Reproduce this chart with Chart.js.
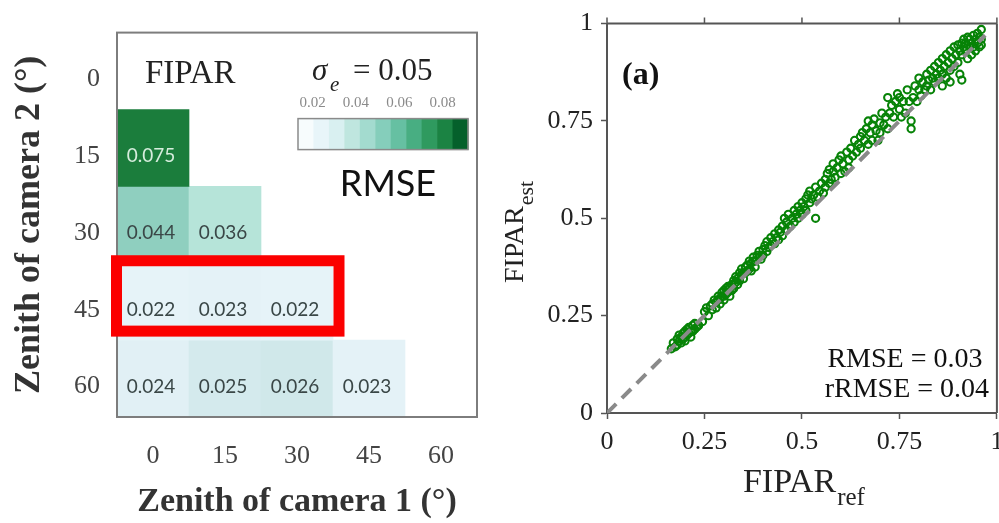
<!DOCTYPE html>
<html>
<head>
<meta charset="utf-8">
<script src="https://cdn.jsdelivr.net/npm/chart.js@4.4.1/dist/chart.umd.min.js"></script>
<style>
html,body{margin:0;padding:0;background:#fff;overflow:hidden;}
#wrap{position:relative;width:999px;height:523px;overflow:hidden;background:#fff;}
canvas{position:absolute;top:0;}
</style>
</head>
<body>
<div id="wrap">
  <canvas id="c1" width="480" height="523" style="left:0;width:480px;height:523px;"></canvas>
  <canvas id="c2" width="523" height="523" style="left:480px;width:523px;height:523px;"></canvas>
</div>
<script>
// ---------------- DATA ----------------
const cam1Labels = ['0', '15', '30', '45', '60'];
const cam2Labels = ['0', '15', '30', '45', '60'];
const rmseRow0  = [null, null, null, null, null];
const rmseRow15 = [0.075, null, null, null, null];
const rmseRow30 = [0.044, 0.036, null, null, null];
const rmseRow45 = [0.022, 0.023, 0.022, null, null];
const rmseRow60 = [0.024, 0.025, 0.026, 0.023, null];
const rmseRows = [rmseRow0, rmseRow15, rmseRow30, rmseRow45, rmseRow60];
const highlightRow = 3;          // row "45"
const highlightCols = [0, 1, 2];  // columns 0,15,30
const colorbarTicks = [0.02, 0.04, 0.06, 0.08];
const colorbarRange = [0.0133, 0.0917];
const sigmaText = '0.05';

const fiparRef = [
  0.165,0.17,0.175,0.18,0.18,0.185,0.185,0.19,0.19,0.195,0.195,0.2,0.2,0.2,0.205,0.205,0.21,0.21,0.215,0.215,0.22,0.22,0.225,0.225,0.23,0.235,0.245,0.25,0.255,0.26,
  0.265,0.27,0.27,0.275,0.28,0.28,0.285,0.285,0.29,0.29,0.295,0.295,0.3,0.3,0.3,0.305,0.305,0.31,0.31,0.315,0.315,0.32,0.32,0.325,0.325,0.33,0.33,0.335,0.335,0.34,0.34,
  0.345,0.345,0.35,0.35,0.355,0.355,0.36,0.36,0.365,0.365,0.37,0.37,0.375,0.375,0.38,0.38,0.385,0.39,0.39,0.395,0.4,0.4,
  0.405,0.41,0.41,0.415,0.42,0.42,0.425,0.43,0.43,0.435,0.44,0.44,0.445,0.45,0.45,0.455,0.46,0.46,0.465,0.47,
  0.475,0.48,0.48,0.485,0.49,0.49,0.495,0.5,0.5,0.505,0.51,0.51,0.515,0.52,0.52,0.525,0.53,0.535,0.535,0.54,0.545,0.55,
  0.555,0.56,0.56,0.565,0.57,0.57,0.575,0.58,0.58,0.585,0.59,0.595,0.6,0.6,0.605,0.61,0.615,0.62,0.62,0.625,0.63,
  0.635,0.64,0.645,0.65,0.65,0.655,0.66,0.665,0.67,0.67,0.675,0.68,0.68,0.685,0.69,0.695,0.7,0.7,0.705,0.71,0.715,0.72,
  0.72,0.725,0.73,0.735,0.74,0.745,0.75,0.75,0.755,0.76,0.765,0.77,0.775,0.78,0.78,0.785,0.79,0.795,0.8,0.8,0.805,0.81,0.815,0.82,0.82,
  0.825,0.83,0.83,0.835,0.84,0.84,0.845,0.85,0.85,0.855,0.86,0.86,0.865,0.87,0.87,0.875,0.88,0.88,0.885,0.89,0.89,0.895,0.9,0.9,0.86,0.88,0.91,0.905,
  0.905,0.91,0.91,0.915,0.915,0.92,0.92,0.925,0.925,0.93,0.93,0.935,0.935,0.94,0.94,0.945,0.945,0.95,0.95,0.955,0.955,0.96,0.96,0.96
];
const fiparEst = [
  0.165,0.18,0.17,0.19,0.175,0.2,0.185,0.195,0.18,0.205,0.19,0.21,0.195,0.185,0.2,0.215,0.205,0.22,0.21,0.195,0.225,0.21,0.215,0.23,0.22,0.225,0.235,0.26,0.27,0.25,
  0.275,0.28,0.265,0.29,0.285,0.27,0.3,0.29,0.295,0.28,0.31,0.3,0.315,0.3,0.29,0.32,0.305,0.31,0.325,0.3,0.32,0.33,0.315,0.34,0.32,0.335,0.35,0.33,0.345,0.36,0.34,
  0.355,0.37,0.36,0.345,0.375,0.36,0.38,0.365,0.37,0.39,0.385,0.365,0.39,0.4,0.39,0.375,0.405,0.4,0.415,0.395,0.42,0.405,
  0.43,0.415,0.44,0.425,0.45,0.43,0.44,0.46,0.435,0.45,0.47,0.445,0.465,0.48,0.455,0.5,0.47,0.49,0.51,0.48,
  0.5,0.52,0.49,0.51,0.53,0.5,0.52,0.54,0.51,0.53,0.55,0.52,0.56,0.54,0.57,0.55,0.56,0.5,0.58,0.555,0.57,0.59,
  0.565,0.6,0.58,0.615,0.59,0.625,0.6,0.62,0.64,0.605,0.63,0.65,0.615,0.66,0.64,0.62,0.67,0.65,0.63,0.68,0.66,
  0.7,0.67,0.69,0.71,0.68,0.72,0.7,0.73,0.69,0.75,0.72,0.7,0.74,0.755,0.725,0.7,0.745,0.72,0.77,0.74,0.76,0.73,
  0.81,0.77,0.79,0.76,0.8,0.82,0.78,0.81,0.76,0.8,0.77,0.83,0.8,0.75,0.73,0.81,0.84,0.8,0.83,0.86,0.815,0.85,0.83,0.87,0.84,
  0.855,0.88,0.83,0.86,0.89,0.85,0.87,0.9,0.86,0.88,0.91,0.87,0.89,0.86,0.92,0.9,0.88,0.93,0.91,0.89,0.94,0.92,0.9,0.945,0.84,0.85,0.855,0.87,
  0.93,0.95,0.92,0.94,0.96,0.93,0.95,0.91,0.965,0.94,0.96,0.92,0.95,0.97,0.94,0.96,0.93,0.975,0.95,0.965,0.94,0.985,0.96,0.945
];
const oneToOne = [0, 0.97];
const scatterTicks = [0, 0.25, 0.5, 0.75, 1];
const statsLines = ['RMSE = 0.03', 'rRMSE = 0.04'];
const panelLabel = '(a)';

// ---------------- STYLE HELPERS ----------------
const SERIF = '"Liberation Serif", "Times New Roman", serif';
const SANS = 'Lato, "Open Sans", sans-serif';
const cellStops = [
  [0.022, [230, 243, 248]], [0.024, [225, 240, 245]], [0.025, [212, 234, 237]],
  [0.026, [208, 232, 234]], [0.036, [182, 228, 217]], [0.044, [143, 207, 191]],
  [0.075, [27, 125, 60]]
];
function cellColor(v) {
  if (v <= cellStops[0][0]) return 'rgb(' + cellStops[0][1].join(',') + ')';
  for (let i = 1; i < cellStops.length; i++) {
    if (v <= cellStops[i][0]) {
      const [a, ca] = cellStops[i - 1], [b, cb] = cellStops[i];
      const t = (v - a) / (b - a);
      return 'rgb(' + ca.map((c, k) => Math.round(c + (cb[k] - c) * t)).join(',') + ')';
    }
  }
  return 'rgb(' + cellStops[cellStops.length - 1][1].join(',') + ')';
}
const colorbarSwatches = ['#f7fcfd','#e8f5f9','#d9f0f1','#bfe6df','#a3dbcf','#85cebb','#66c0a2','#48ae82','#2f9a5f','#1b8343','#05602b'];

function drawSub(ctx, main, sub, mainFont, subFont, x, y, subDy) {
  ctx.font = mainFont;
  const w = ctx.measureText(main).width;
  ctx.fillText(main, x, y);
  ctx.font = subFont;
  ctx.fillText(sub, x + w + 1, y + subDy);
  return w + 1 + ctx.measureText(sub).width;
}
function subWidth(ctx, main, sub, mainFont, subFont) {
  ctx.font = mainFont; const w = ctx.measureText(main).width;
  ctx.font = subFont; return w + 1 + ctx.measureText(sub).width;
}

// ---------------- HEATMAP (left) ----------------
const heatDatasets = rmseRows.map((row, r) => ({
  label: cam2Labels[r],
  data: row.map(v => v == null ? null : [r - 0.5, r + 0.5]),
  values: row,
  backgroundColor: row.map(v => v == null ? 'rgba(0,0,0,0)' : cellColor(v)),
  borderWidth: 0,
  grouped: false,
  barPercentage: 1,
  categoryPercentage: 1
}));

const heatPlugin = {
  id: 'heatExtras',
  afterDatasetsDraw(chart) {
    const ctx = chart.ctx, ca = chart.chartArea;
    const xs = chart.scales.x, ys = chart.scales.y;
    ctx.save();
    // cell values
    ctx.textAlign = 'center'; ctx.textBaseline = 'middle';
    ctx.font = '19px ' + SANS;
    chart.data.datasets.forEach((ds, i) => {
      const meta = chart.getDatasetMeta(i);
      ds.values.forEach((v, j) => {
        if (v == null) return;
        const el = meta.data[j];
        const c = el.getCenterPoint();
        ctx.fillStyle = v > 0.06 ? '#d6eddd' : '#3a4747';
        ctx.fillText(v.toFixed(3), c.x - 2, c.y + 8);
      });
    });
    // plot frame
    ctx.strokeStyle = '#7d7d7d'; ctx.lineWidth = 2;
    ctx.strokeRect(ca.left, ca.top, ca.right - ca.left, ca.bottom - ca.top);
    // red highlight box
    const half = (xs.getPixelForValue(1) - xs.getPixelForValue(0)) / 2;
    const x0 = xs.getPixelForValue(highlightCols[0]) - half - 0.5;
    const x1 = xs.getPixelForValue(highlightCols[highlightCols.length - 1]) + half + 6;
    const y0 = ys.getPixelForValue(highlightRow - 0.5) - 2.5;
    const y1 = ys.getPixelForValue(highlightRow + 0.5) - 9;
    ctx.strokeStyle = '#fb0000'; ctx.lineWidth = 11;
    ctx.strokeRect(x0, y0, x1 - x0, y1 - y0);
    // FIPAR label
    ctx.textAlign = 'left'; ctx.textBaseline = 'alphabetic';
    ctx.fillStyle = '#222';
    ctx.font = '33px ' + SERIF;
    ctx.fillText('FIPAR', ca.left + 28, ca.top + 50);
    // sigma_e = 0.05
    ctx.font = 'italic 31px ' + SERIF;
    ctx.fillText('σ', ca.left + 195, ca.top + 47);
    ctx.font = 'italic 21px ' + SERIF;
    ctx.fillText('e', ca.left + 213, ca.top + 58);
    ctx.font = '31px ' + SERIF;
    ctx.fillText('= ' + sigmaText, ca.left + 236, ca.top + 47);
    // colorbar
    const cbL = ca.left + 181, cbR = ca.left + 351, cbT = ca.top + 86, cbB = ca.top + 117;
    const sw = (cbR - cbL) / colorbarSwatches.length;
    colorbarSwatches.forEach((c, k) => { ctx.fillStyle = c; ctx.fillRect(cbL + k * sw, cbT, sw + 0.5, cbB - cbT); });
    ctx.strokeStyle = '#8a8a8a'; ctx.lineWidth = 1.5;
    ctx.strokeRect(cbL, cbT, cbR - cbL, cbB - cbT);
    ctx.fillStyle = '#8a8a8a'; ctx.font = '15px ' + SERIF; ctx.textAlign = 'center';
    colorbarTicks.forEach(t => {
      const px = cbL + (t - colorbarRange[0]) / (colorbarRange[1] - colorbarRange[0]) * (cbR - cbL);
      ctx.fillText(t.toFixed(2), px, ca.top + 74);
    });
    // RMSE label
    ctx.fillStyle = '#111'; ctx.font = '36px ' + SANS;
    ctx.fillText('RMSE', ca.left + 271, ca.top + 163);
    ctx.restore();
  }
};

new Chart(document.getElementById('c1'), {
  type: 'bar',
  data: { labels: cam1Labels, datasets: heatDatasets },
  plugins: [heatPlugin],
  options: {
    responsive: false, animation: false, devicePixelRatio: 1,
    layout: { padding: { top: 20, right: 3, left: 0, bottom: 0 } },
    plugins: { legend: { display: false }, tooltip: { enabled: false } },
    scales: {
      x: {
        type: 'category', offset: true,
        grid: { display: false, drawTicks: false }, border: { display: false },
        ticks: { color: '#444', font: { family: SERIF, size: 26 }, padding: 24 },
        afterFit(s) { s.height = 106; },
        title: { display: true, text: 'Zenith of camera 1 (°)', color: '#333',
                 font: { family: SERIF, size: 34, weight: 'bold' }, padding: { top: 0, bottom: 0 } }
      },
      y: {
        type: 'linear', min: -0.5, max: 4.5, reverse: true,
        grid: { display: false, drawTicks: false }, border: { display: false },
        afterBuildTicks(s) { s.ticks = cam2Labels.map((_, i) => ({ value: i })); },
        ticks: { color: '#444', font: { family: SERIF, size: 26 }, padding: 17, labelOffset: 8,
                 callback: (v) => cam2Labels[v] },
        afterFit(s) { s.width = 117; },
        title: { display: true, text: 'Zenith of camera 2 (°)', color: '#333',
                 font: { family: SERIF, size: 36, weight: 'bold' }, padding: { top: 8, bottom: 0 } }
      }
    }
  }
});

// ---------------- SCATTER (right) ----------------
const scatterPlugin = {
  id: 'scatterExtras',
  afterDraw(chart) {
    const ctx = chart.ctx, ca = chart.chartArea, xs = chart.scales.x;
    ctx.save();
    ctx.strokeStyle = '#555'; ctx.lineWidth = 2;
    ctx.beginPath();
    ctx.moveTo(ca.left, ca.top); ctx.lineTo(ca.right, ca.top);
    ctx.moveTo(ca.right, ca.top); ctx.lineTo(ca.right, ca.bottom);
    ctx.stroke();
    ctx.lineWidth = 1.5; ctx.beginPath();
    scatterTicks.forEach(v => {
      const px = xs.getPixelForValue(v);
      ctx.moveTo(px, ca.top); ctx.lineTo(px, ca.top - 6);
    });
    ctx.stroke();
    ctx.fillStyle = '#111';
    ctx.textBaseline = 'alphabetic';
    // (a)
    ctx.textAlign = 'left';
    ctx.font = 'bold 32px ' + SERIF;
    ctx.fillText(panelLabel, ca.left + 15, ca.top + 60);
    // stats
    ctx.textAlign = 'center';
    ctx.font = '28px ' + SERIF;
    ctx.fillText(statsLines[0], ca.right - 92, ca.bottom - 46);
    ctx.fillText(statsLines[1], ca.right - 90, ca.bottom - 16);
    // x title FIPAR_ref
    ctx.textAlign = 'left';
    ctx.fillStyle = '#222';
    const mf = '34px ' + SERIF, sf = '25px ' + SERIF;
    const wx = subWidth(ctx, 'FIPAR', 'ref', mf, sf);
    drawSub(ctx, 'FIPAR', 'ref', mf, sf, (ca.left + ca.right) / 2 + 2 - wx / 2, 492, 13);
    // y title FIPAR_est (rotated)
    const mf2 = '28px ' + SERIF, sf2 = '22px ' + SERIF;
    const wy = subWidth(ctx, 'FIPAR', 'est', mf2, sf2);
    ctx.translate(43, 232);
    ctx.rotate(-Math.PI / 2);
    drawSub(ctx, 'FIPAR', 'est', mf2, sf2, -wy / 2, 0, 10);
    ctx.restore();
  }
};

new Chart(document.getElementById('c2'), {
  type: 'scatter',
  data: {
    datasets: [
      { type: 'line', data: oneToOne.map(v => ({ x: v, y: v })), borderColor: '#8a8a8a',
        borderWidth: 4, borderDash: [13, 8], pointRadius: 0, fill: false, order: 0 },
      { type: 'scatter', data: fiparRef.map((x, i) => ({ x: x, y: fiparEst[i] })),
        borderColor: '#078307', backgroundColor: 'rgba(0,0,0,0)', pointRadius: 3.6,
        borderWidth: 2.1, order: 1 }
    ]
  },
  plugins: [scatterPlugin],
  options: {
    responsive: false, animation: false, devicePixelRatio: 1,
    layout: { padding: { top: 20, right: 0, left: 0, bottom: 0 } },
    plugins: { legend: { display: false }, tooltip: { enabled: false } },
    scales: {
      x: {
        type: 'linear', min: 0, max: 1,
        afterBuildTicks(s) { s.ticks = scatterTicks.map(v => ({ value: v })); },
        grid: { drawOnChartArea: false, drawTicks: true, tickLength: 6, color: '#555', tickColor: '#555', tickWidth: 1.5 },
        border: { display: true, color: '#555', width: 2 },
        ticks: { color: '#222', font: { family: SERIF, size: 26 }, padding: 8, maxRotation: 0,
                 callback: v => String(v) },
        afterFit(s) { s.height = 110; s.paddingRight = 0; }
      },
      y: {
        type: 'linear', min: 0, max: 1,
        afterBuildTicks(s) { s.ticks = scatterTicks.map(v => ({ value: v })); },
        grid: { drawOnChartArea: false, drawTicks: true, tickLength: 6, color: '#555', tickColor: '#555', tickWidth: 1.5 },
        border: { display: true, color: '#555', width: 2 },
        ticks: { color: '#222', font: { family: SERIF, size: 26 }, padding: 8,
                 callback: v => String(v) },
        afterFit(s) { s.width = 127; }
      }
    }
  }
});
</script>
</body>
</html>
